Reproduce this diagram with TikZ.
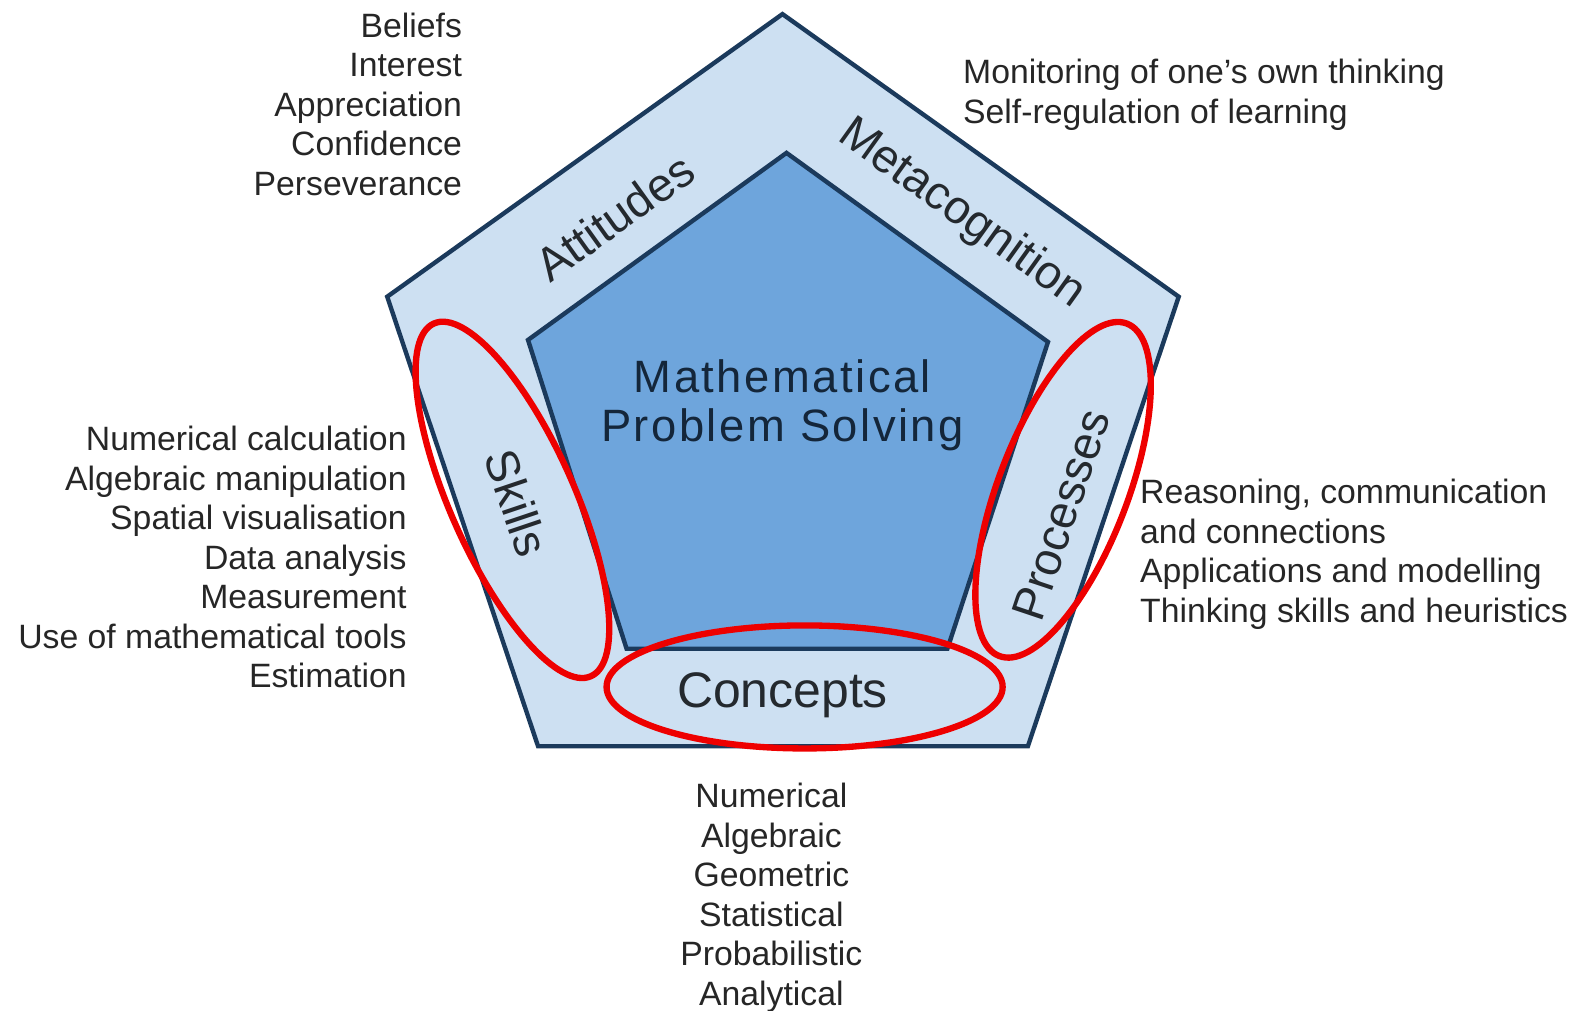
\documentclass[tikz,border=0pt]{standalone}
\usepackage{fontspec}
\setmainfont{Liberation Sans}
\newfontfamily\spacedfont[LetterSpace=5.5]{Liberation Sans}
\definecolor{outline}{HTML}{1B3A5C}
\definecolor{lightfill}{HTML}{CDE0F2}
\definecolor{darkfill}{HTML}{6EA5DC}
\definecolor{txt}{HTML}{262626}
\definecolor{title}{HTML}{14263A}
\definecolor{ring}{HTML}{EE0000}
\tikzset{
  listtext/.style={inner sep=0pt, text=txt, font=\fontsize{9.6}{11.24}\selectfont},
  sidelabel/.style={inner sep=0pt, text=txt!85!outline, font=\fontsize{13.3}{15}\selectfont},
  pentline/.style={draw=outline, line width=1.25pt, line join=miter},
  ringline/.style={draw=ring, line width=1.8pt},
}
\begin{document}
\begin{tikzpicture}[x=0.010057cm, y=-0.010057cm]
\useasboundingbox (0,0) rectangle (1568,1005);
% outer pentagon vertices
\coordinate (OT) at (778,14);
\coordinate (OR) at (1172,295);
\coordinate (OBR) at (1022,742);
\coordinate (OBL) at (535,742);
\coordinate (OL) at (385,295);
% inner pentagon vertices
\coordinate (IT) at (782,152);
\coordinate (IR) at (1042,340);
\coordinate (IBR) at (942,645);
\coordinate (IBL) at (623,645);
\coordinate (IL) at (525,338);
\path[pentline, fill=lightfill] (OT) -- (OR) -- (OBR) -- (OBL) -- (OL) -- cycle;
\path[pentline, fill=darkfill] (IT) -- (IR) -- (IBR) -- (IBL) -- (IL) -- cycle;

% title
\node[inner sep=0pt, text=title, align=center,
      font=\spacedfont\fontsize{12.9}{13.7}\selectfont] (mps) at (778,403)
  {Mathematical\\Problem Solving};

% side labels
\node[sidelabel, rotate=35.6] (att) at (611,216) {Attitudes};
\node[sidelabel, rotate=-35.6] (meta) at (956,213) {Metacognition};
\node[sidelabel, rotate=-71.4] (skl) at (514,500) {Skills};
\node[sidelabel, rotate=71.4] (proc) at (1055,512) {Processes};
\node[inner sep=0pt, text=txt!85!outline, font=\fontsize{14.2}{16}\selectfont] (conc) at (778,691) {Concepts};

% red rings
\draw[ringline, rotate around={-66:(509.5,497)}] (509.5,497) ellipse [x radius=1.93cm, y radius=0.62cm];
\draw[ringline, rotate around={69:(1057,487)}] (1057,487) ellipse [x radius=1.78cm, y radius=0.645cm];
\draw[ringline] (800,683) ellipse [x radius=1.98cm, y radius=0.615cm];

% lists
\node[listtext, anchor=north east, align=right] (attl) at (460,12)
  {Beliefs\\Interest\\Appreciation\\Confidence\\Perseverance};
\node[listtext, anchor=north west, align=left] (metal) at (957,58)
  {Monitoring of one\char"0027 s own thinking\\Self-regulation of learning};
\node[listtext, anchor=north east, align=right] (skll) at (405,423)
  {Numerical calculation\\Algebraic manipulation\\Spatial visualisation\\Data analysis\\Measurement\\Use of mathematical tools\\Estimation\hspace{5\pgflinewidth}};
\node[listtext, anchor=north west, align=left] (procl) at (1133,476)
  {Reasoning, communication\\and connections\\Applications and modelling\\Thinking skills and heuristics};
\node[listtext, anchor=north, align=center] (concl) at (767,778)
  {Numerical\\Algebraic\\Geometric\\Statistical\\Probabilistic\\Analytical};
\end{tikzpicture}
\end{document}
